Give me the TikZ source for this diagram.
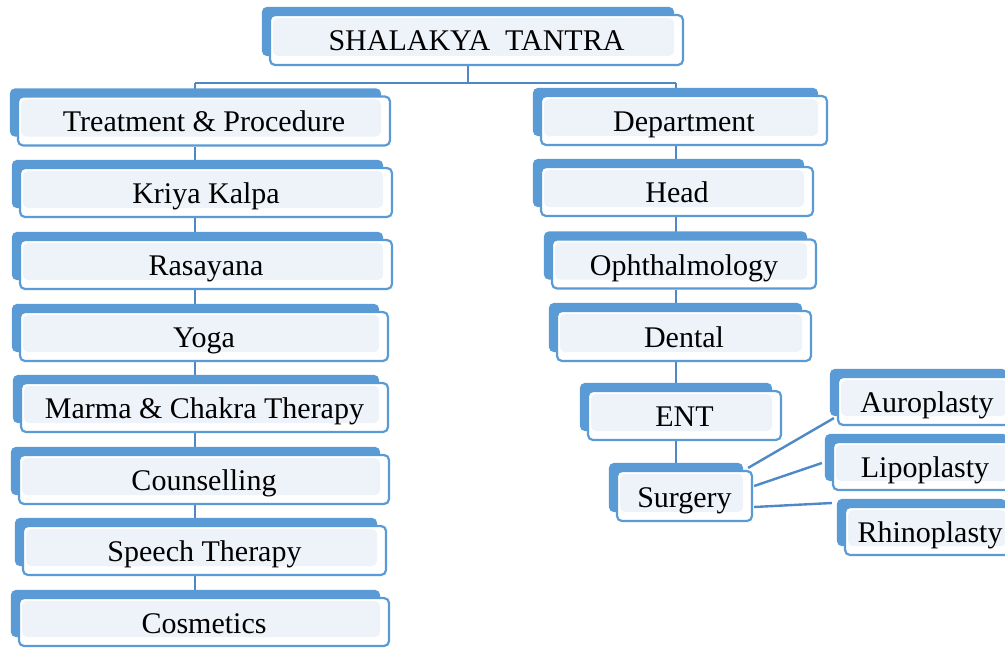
\documentclass[tikz,border=0pt]{standalone}
\usepackage{fontspec}
\setmainfont{Liberation Serif}
\usetikzlibrary{positioning,calc,backgrounds}
\definecolor{boxblue}{HTML}{5B9BD5}
\definecolor{boxfill}{HTML}{EEF3FA}
\definecolor{linkblue}{HTML}{4F88C6}

\begin{document}
\begin{tikzpicture}[
    x=0.5pt, y=-0.5pt,
    tbox/.style={draw=boxblue, line width=1.1pt, rounded corners=2.5pt, fill=white,
        inner sep=0pt, minimum height=24.5pt, text height=14pt, text depth=3pt,
        font=\fontsize{15}{18}\selectfont,
        path picture={\fill[boxfill] ($(path picture bounding box.north west)+(3,3)$)
            rectangle ($(path picture bounding box.south east)+(-9,-9)$);}},
    back/.style={fill=boxblue, rounded corners=2.5pt},
    link/.style={draw=linkblue, line width=1.2pt}
]
\clip (0,0) rectangle (1005,647);

% Root
\node[tbox, minimum width=206.5pt, minimum height=25pt] (root) at (476.5,40) {SHALAKYA\ \ TANTRA};

% Left column
\node[tbox, minimum width=186pt] (treat) at (204,121) {Treatment \& Procedure};
\node[tbox, minimum width=186pt] (kriya) at (206,192.5) {Kriya Kalpa};
\node[tbox, minimum width=186pt] (rasa) at (206,264.5) {Rasayana};
\node[tbox, minimum width=184pt] (yoga) at (204,336.5) {Yoga};
\node[tbox, minimum width=183.5pt] (marma) at (204.5,407.5) {Marma \& Chakra Therapy};
\node[tbox, minimum width=185pt] (couns) at (204,479.5) {Counselling};
\node[tbox, minimum width=181.5pt] (speech) at (204.5,550.5) {Speech Therapy};
\node[tbox, minimum width=185pt, minimum height=24pt] (cosm) at (204,622) {Cosmetics};

% Right column
\node[tbox, minimum width=143pt] (dept) at (684,120.5) {Department};
\node[tbox, minimum width=136pt] (head) at (677,191.5) {Head};
\node[tbox, minimum width=132pt] (oph) at (684,264) {Ophthalmology};
\node[tbox, minimum width=127pt, minimum height=25pt] (dental) at (684,336) {Dental};
\node[tbox, minimum width=96.5pt] (ent) at (684.5,415.5) {ENT};
\node[tbox, minimum width=67.5pt, minimum height=25pt] (surg) at (684.5,496) {Surgery};

% Surgery branches
\node[tbox, minimum width=89pt, minimum height=24pt] (auro) at (927,401) {Auroplasty};
\node[tbox, minimum width=92pt, minimum height=24pt] (lipo) at (925,466) {Lipoplasty};
\node[tbox, minimum width=85pt, minimum height=24pt] (rhino) at (930,531) {Rhinoplasty};

\coordinate (tj) at (468,83);
\coordinate (lcol) at (195,83);
\coordinate (rcol) at (676,83);

\begin{scope}[on background layer]
% connectors
\draw[link] (root.south -| tj) -- (tj);
\draw[link] (lcol) -- (rcol);
\draw[link] (lcol) -- (treat.north -| lcol);
\draw[link] (rcol) -- (dept.north -| rcol);
\foreach \a/\b in {treat/kriya, kriya/rasa, rasa/yoga, yoga/marma, marma/couns, couns/speech, speech/cosm}
    \draw[link] (\a.south -| lcol) -- (\b.north -| lcol);
\foreach \a/\b in {dept/head, head/oph, oph/dental, dental/ent, ent/surg}
    \draw[link] (\a.south -| rcol) -- (\b.north -| rcol);
\draw[link] ($(surg.north east)+(-5,-2)$) -- ($(auro.south west)+(-3,-8)$);
\draw[link] ($(surg.east)+(1,-10)$) -- ($(lipo.west)+(-10,-3)$);
\draw[link] ($(surg.east)+(1,11)$) -- ($(rhino.west)+(-12,-28)$);
% back panels
\foreach \n in {root, treat, kriya, rasa, yoga, marma, couns, speech, cosm,
                dept, head, oph, dental, ent, surg, auro, lipo, rhino}
    \fill[back] ($(\n.north west)+(-7,-7)$) rectangle ($(\n.south east)+(-10,-10)$);
\end{scope}
\end{tikzpicture}
\end{document}
